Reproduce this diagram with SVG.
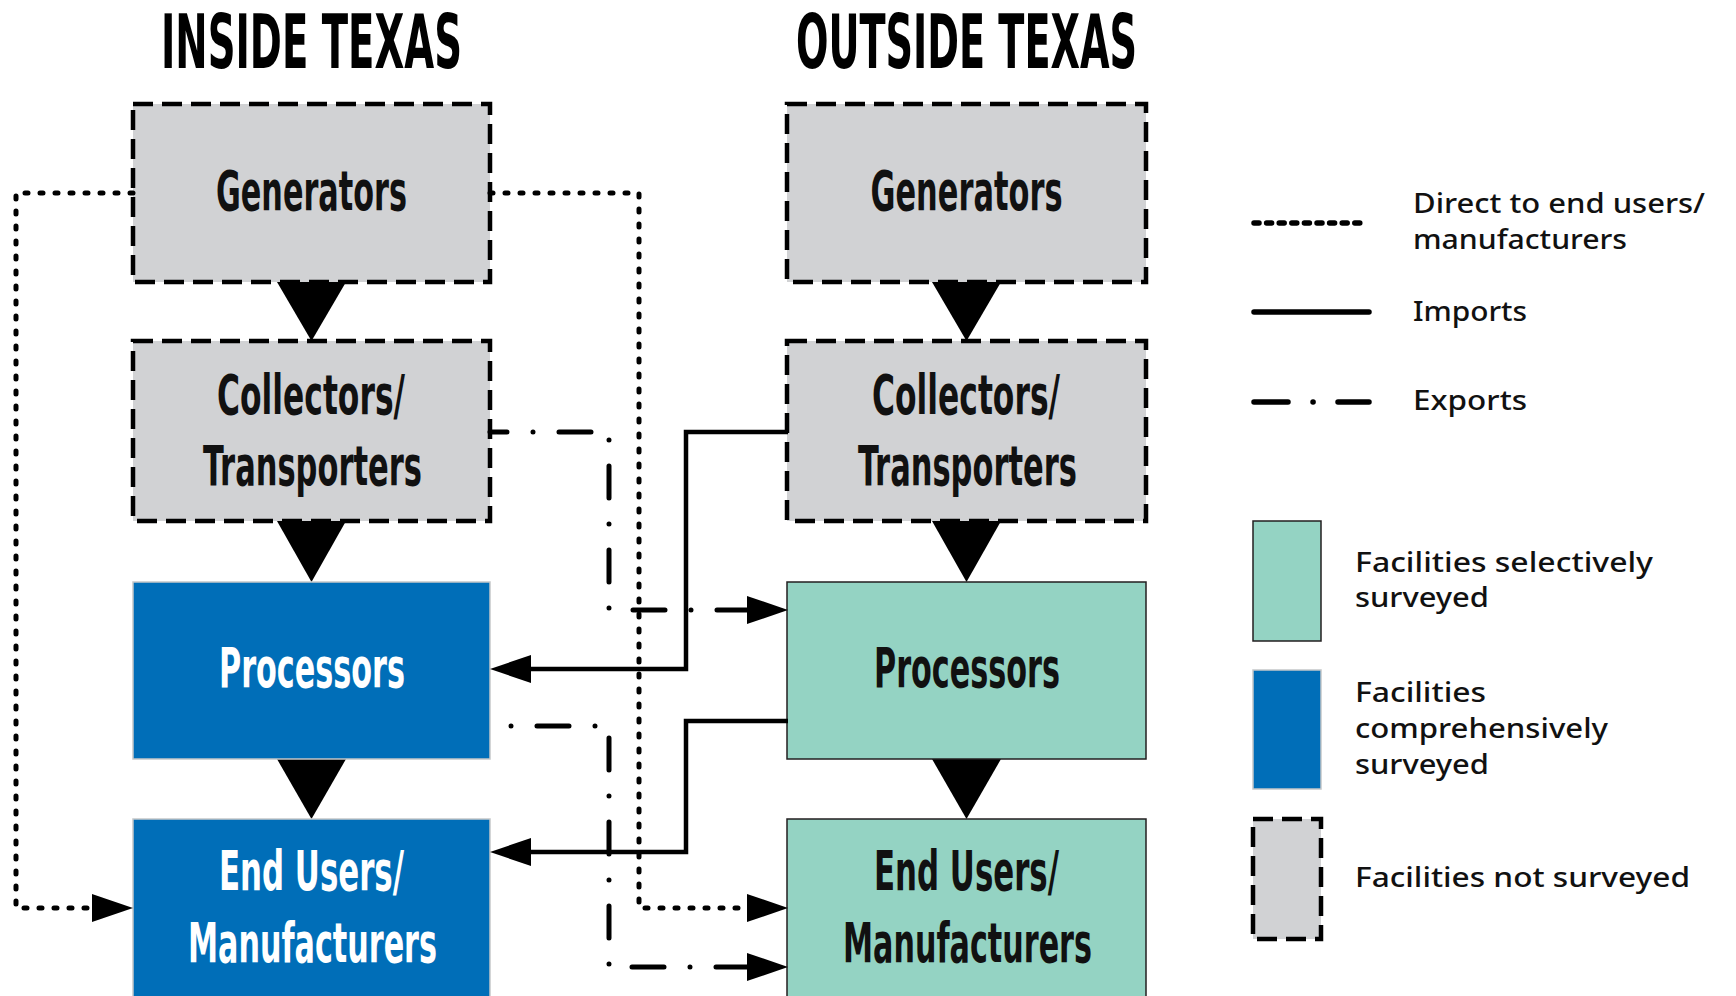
<svg xmlns="http://www.w3.org/2000/svg" width="1736" height="996" viewBox="0 0 1736 996">
<defs>
<style>
.gray{fill:#d1d2d4;stroke:#000;stroke-width:4.5;stroke-dasharray:20 9}
.blue{fill:#006eb8;stroke:#c5c7c9;stroke-width:1.5}
.teal{fill:#94d3c3;stroke:#231f20;stroke-width:1.5}
.tri{fill:#000}
.title{font-family:"Liberation Sans Narrow","DejaVu Sans Condensed","Roboto Condensed",sans-serif;font-weight:bold;font-size:75px;fill:#000}
.lab{font-family:"Liberation Sans Narrow","DejaVu Sans Condensed","Roboto Condensed",sans-serif;font-weight:bold;font-size:56px;fill:#111}
.lab.w{fill:#fff}
.leg{font-family:"Noto Sans","Liberation Sans",sans-serif;font-weight:500;font-size:27px;fill:#111}
.dot{fill:none;stroke:#000;stroke-width:5;stroke-linecap:round;stroke-dasharray:3 12}
.imp{fill:none;stroke:#000;stroke-width:4.5}
.exp{fill:none;stroke:#000;stroke-width:5;stroke-linecap:round;stroke-dasharray:32 26 0 26}
</style>
<marker id="ah" markerUnits="userSpaceOnUse" viewBox="0 0 41 28" markerWidth="41" markerHeight="28" refX="0" refY="14" orient="auto">
<path d="M0,0 L41,14 L0,28 Z" fill="#000"/>
</marker>
</defs>
<rect width="1736" height="996" fill="#fff"/>

<g id="titles">
<text class="title" x="311.5" y="68" text-anchor="middle" textLength="301" lengthAdjust="spacingAndGlyphs">INSIDE TEXAS</text>
<text class="title" x="966.5" y="68" text-anchor="middle" textLength="341" lengthAdjust="spacingAndGlyphs">OUTSIDE TEXAS</text>
</g>

<g id="flow-triangles">
<polygon class="tri" points="277,282 346,282 311.5,341"/>
<polygon class="tri" points="277,521 346,521 311.5,582"/>
<polygon class="tri" points="277,759 346,759 311.5,819"/>
<polygon class="tri" points="932,282 1001,282 966.5,341"/>
<polygon class="tri" points="932,521 1001,521 966.5,582"/>
<polygon class="tri" points="932,759 1001,759 966.5,819"/>
</g>

<g id="in-generators">
<rect class="gray" x="133" y="104" width="357" height="178"/>
<text class="lab" x="311.5" y="210" text-anchor="middle" textLength="191" lengthAdjust="spacingAndGlyphs">Generators</text>
</g>
<g id="in-collectors">
<rect class="gray" x="133" y="341" width="357" height="180"/>
<text class="lab" x="311" y="414" text-anchor="middle" textLength="188" lengthAdjust="spacingAndGlyphs">Collectors/</text>
<text class="lab" x="312.5" y="485" text-anchor="middle" textLength="219" lengthAdjust="spacingAndGlyphs">Transporters</text>
</g>
<g id="in-processors">
<rect class="blue" x="133" y="582" width="357" height="177"/>
<text class="lab w" x="312" y="687" text-anchor="middle" textLength="186" lengthAdjust="spacingAndGlyphs">Processors</text>
</g>
<g id="in-endusers">
<rect class="blue" x="133" y="819" width="357" height="200"/>
<text class="lab w" x="311.5" y="890" text-anchor="middle" textLength="185" lengthAdjust="spacingAndGlyphs">End Users/</text>
<text class="lab w" x="312.5" y="962" text-anchor="middle" textLength="249" lengthAdjust="spacingAndGlyphs">Manufacturers</text>
</g>

<g id="out-generators">
<rect class="gray" x="787" y="104" width="359" height="178"/>
<text class="lab" x="966.5" y="210" text-anchor="middle" textLength="192" lengthAdjust="spacingAndGlyphs">Generators</text>
</g>
<g id="out-collectors">
<rect class="gray" x="787" y="341" width="359" height="180"/>
<text class="lab" x="966" y="414" text-anchor="middle" textLength="188" lengthAdjust="spacingAndGlyphs">Collectors/</text>
<text class="lab" x="967.5" y="485" text-anchor="middle" textLength="219" lengthAdjust="spacingAndGlyphs">Transporters</text>
</g>
<g id="out-processors">
<rect class="teal" x="787" y="582" width="359" height="177"/>
<text class="lab" x="967" y="687" text-anchor="middle" textLength="186" lengthAdjust="spacingAndGlyphs">Processors</text>
</g>
<g id="out-endusers">
<rect class="teal" x="787" y="819" width="359" height="200"/>
<text class="lab" x="966.5" y="890" text-anchor="middle" textLength="185" lengthAdjust="spacingAndGlyphs">End Users/</text>
<text class="lab" x="967.5" y="962" text-anchor="middle" textLength="249" lengthAdjust="spacingAndGlyphs">Manufacturers</text>
</g>

<g id="connectors">
<path class="dot" d="M133,193 H16 V908 H92" marker-end="url(#ah)"/>
<path class="dot" d="M490,193 H639 V908 H747" marker-end="url(#ah)"/>
<path class="exp" d="M490,432 H609 V610 H747" stroke-dashoffset="15" marker-end="url(#ah)"/>
<path class="exp" d="M511,726 H609 V967 H747" stroke-dashoffset="58" marker-end="url(#ah)"/>
<path class="imp" d="M788,432 H686 V669 H531" marker-end="url(#ah)"/>
<path class="imp" d="M788,721 H686 V852 H531" marker-end="url(#ah)"/>
</g>

<g id="legend">
<path d="M1254,223 H1362" fill="none" stroke="#000" stroke-width="5.5" stroke-linecap="round" stroke-dasharray="5 7.6"/>
<text class="leg" x="1413" y="213" textLength="292" lengthAdjust="spacingAndGlyphs">Direct to end users/</text>
<text class="leg" x="1413" y="249" textLength="214" lengthAdjust="spacingAndGlyphs">manufacturers</text>
<path d="M1254,312 H1369" fill="none" stroke="#000" stroke-width="5.5" stroke-linecap="round"/>
<text class="leg" x="1413" y="321" textLength="114" lengthAdjust="spacingAndGlyphs">Imports</text>
<path d="M1254,402 H1288 M1313,402 H1313.1 M1338,402 H1369" fill="none" stroke="#000" stroke-width="5.5" stroke-linecap="round"/>
<text class="leg" x="1413" y="410" textLength="114" lengthAdjust="spacingAndGlyphs">Exports</text>
<rect class="teal" x="1253" y="521" width="68" height="120"/>
<text class="leg" x="1355" y="572" textLength="298" lengthAdjust="spacingAndGlyphs">Facilities selectively</text>
<text class="leg" x="1355" y="607" textLength="134" lengthAdjust="spacingAndGlyphs">surveyed</text>
<rect class="blue" x="1253" y="670" width="68" height="119"/>
<text class="leg" x="1355" y="702" textLength="131" lengthAdjust="spacingAndGlyphs">Facilities</text>
<text class="leg" x="1355" y="738" textLength="253" lengthAdjust="spacingAndGlyphs">comprehensively</text>
<text class="leg" x="1355" y="774" textLength="134" lengthAdjust="spacingAndGlyphs">surveyed</text>
<rect class="gray" x="1253" y="819" width="68" height="120"/>
<text class="leg" x="1355" y="887" textLength="335" lengthAdjust="spacingAndGlyphs">Facilities not surveyed</text>
</g>
</svg>
